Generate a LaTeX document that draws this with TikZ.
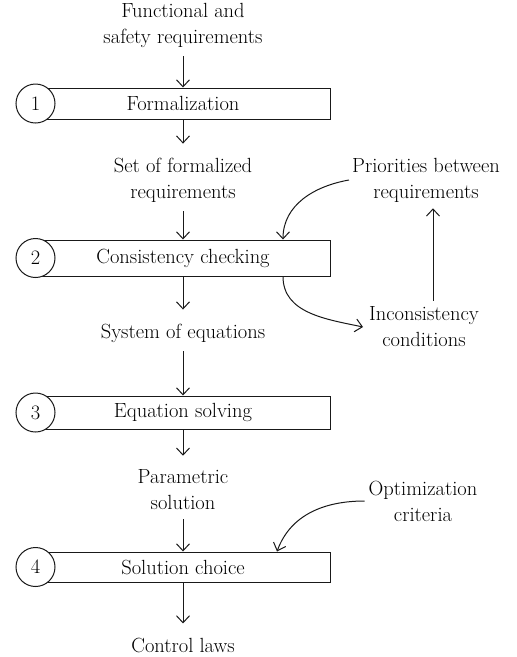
\documentclass[tikz,border=0pt]{standalone}
\usetikzlibrary{arrows.meta}
\begin{document}
\begin{tikzpicture}[x=1pt,y=-1pt,
  every node/.style={font=\fontsize{20.5}{26}\selectfont, text=black},
  txt/.style={align=center, inner sep=0pt},
  stage/.style={draw=black!90, line width=1pt, minimum width=294pt, inner sep=0pt},
  num/.style={draw=black!90, circle, fill=white, line width=1pt, minimum size=39pt, inner sep=0pt},
  arr/.style={line width=1pt, draw=black!90, -{Straight Barb[length=7pt,width=13pt]}},
  fromtxt/.style={shorten <=9pt},
  totxt/.style={shorten >=14pt},
]
\useasboundingbox (0,0) rectangle (517,657);
% main column texts
\node[txt] (t1) at (183,25) {Functional and\\safety requirements};
\node[txt] (t2) at (183,180) {Set of formalized\\requirements};
\node[txt] (t3) at (183,333) {System of equations};
\node[txt] (t4) at (183,490) {Parametric\\solution};
\node[txt] (t5) at (183,645) {Control laws};
% stages
\node[stage, minimum height=31pt] (b1) at (183,103.5) {Formalization};
\node[stage, minimum height=36pt] (b2) at (183,258) {Consistency checking};
\node[stage, minimum height=33pt] (b3) at (183,412.5) {Equation solving};
\node[stage, minimum height=30pt] (b4) at (183,567) {Solution choice};
\node[num] (n1) at (b1.west) {1};
\node[num] (n2) at (b2.west) {2};
\node[num] (n3) at (b3.west) {3};
\node[num] (n4) at (b4.west) {4};
% side texts
\node[txt] (tp) at (426,180) {Priorities between\\requirements};
\node[txt] (ti) at (424,327) {Inconsistency\\conditions};
\node[txt] (to) at (423,501) {Optimization\\criteria};
% main arrows
\draw[arr, fromtxt] (t1.south) -- (b1.north);
\draw[arr, totxt] (b1.south) -- (t2.north);
\draw[arr, fromtxt] (t2.south) -- (b2.north);
\draw[arr, totxt] (b2.south) -- (t3.north);
\draw[arr, fromtxt] (t3.south) -- (b3.north);
\draw[arr, totxt] (b3.south) -- (t4.north);
\draw[arr, fromtxt] (t4.south) -- (b4.north);
\draw[arr, totxt] (b4.south) -- (t5.north);
% side arrows
\draw[arr, shorten <=6pt, shorten >=6pt] ([xshift=9pt]ti.north) -- ([xshift=7pt]tp.south);
\draw[arr] ([xshift=-3pt]tp.west) to[out=190, in=90] ([xshift=100pt]b2.north);
\draw[arr] ([xshift=100pt]b2.south) to[out=-90, in=168] ([xshift=-6pt]ti.west);
\draw[arr] ([xshift=-4pt]to.west) to[out=180, in=70] ([xshift=94pt]b4.north);
\end{tikzpicture}
\end{document}
